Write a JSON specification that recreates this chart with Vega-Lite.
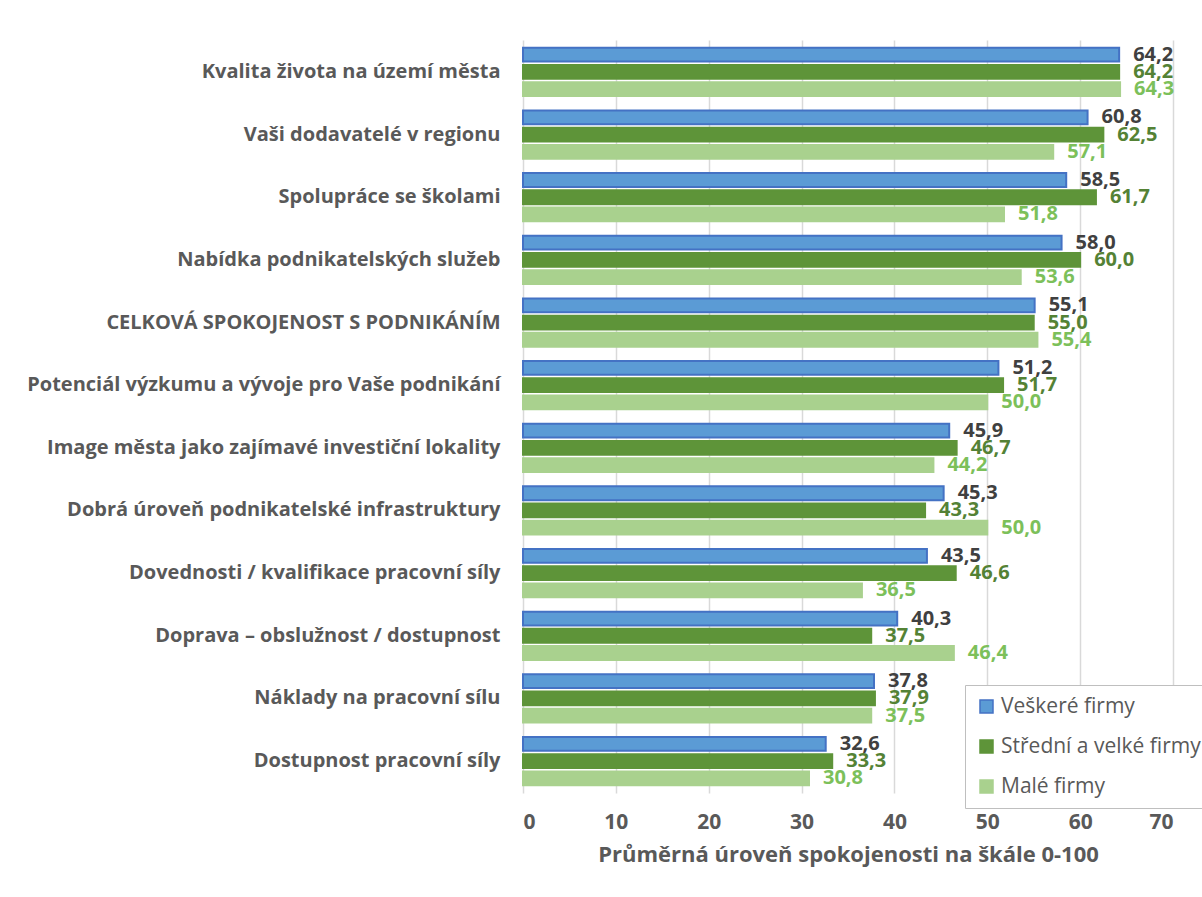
{
  "$schema": "https://vega.github.io/schema/vega-lite/v6.json",
  "width": 650,
  "height": 753,
  "autosize": {"type": "none"},
  "padding": {"left": 523, "top": 40, "right": 29, "bottom": 104},
  "background": "white",
  "config": {
    "font": "Open Sans",
    "view": {"stroke": null},
    "locale": {"number": {"decimal": ",", "thousands": " ", "grouping": [3], "currency": ["", " Kč"]}}
  },
  "data": {
    "values": [
      {"kat": "Kvalita života na území města", "serie": "Veškeré firmy", "hodnota": 64.2},
      {"kat": "Kvalita života na území města", "serie": "Střední a velké firmy", "hodnota": 64.2},
      {"kat": "Kvalita života na území města", "serie": "Malé firmy", "hodnota": 64.3},
      {"kat": "Vaši dodavatelé v regionu", "serie": "Veškeré firmy", "hodnota": 60.8},
      {"kat": "Vaši dodavatelé v regionu", "serie": "Střední a velké firmy", "hodnota": 62.5},
      {"kat": "Vaši dodavatelé v regionu", "serie": "Malé firmy", "hodnota": 57.1},
      {"kat": "Spolupráce se školami", "serie": "Veškeré firmy", "hodnota": 58.5},
      {"kat": "Spolupráce se školami", "serie": "Střední a velké firmy", "hodnota": 61.7},
      {"kat": "Spolupráce se školami", "serie": "Malé firmy", "hodnota": 51.8},
      {"kat": "Nabídka podnikatelských služeb", "serie": "Veškeré firmy", "hodnota": 58.0},
      {"kat": "Nabídka podnikatelských služeb", "serie": "Střední a velké firmy", "hodnota": 60.0},
      {"kat": "Nabídka podnikatelských služeb", "serie": "Malé firmy", "hodnota": 53.6},
      {"kat": "CELKOVÁ SPOKOJENOST S PODNIKÁNÍM", "serie": "Veškeré firmy", "hodnota": 55.1},
      {"kat": "CELKOVÁ SPOKOJENOST S PODNIKÁNÍM", "serie": "Střední a velké firmy", "hodnota": 55.0},
      {"kat": "CELKOVÁ SPOKOJENOST S PODNIKÁNÍM", "serie": "Malé firmy", "hodnota": 55.4},
      {"kat": "Potenciál výzkumu a vývoje pro Vaše podnikání", "serie": "Veškeré firmy", "hodnota": 51.2},
      {"kat": "Potenciál výzkumu a vývoje pro Vaše podnikání", "serie": "Střední a velké firmy", "hodnota": 51.7},
      {"kat": "Potenciál výzkumu a vývoje pro Vaše podnikání", "serie": "Malé firmy", "hodnota": 50.0},
      {"kat": "Image města jako zajímavé investiční lokality", "serie": "Veškeré firmy", "hodnota": 45.9},
      {"kat": "Image města jako zajímavé investiční lokality", "serie": "Střední a velké firmy", "hodnota": 46.7},
      {"kat": "Image města jako zajímavé investiční lokality", "serie": "Malé firmy", "hodnota": 44.2},
      {"kat": "Dobrá úroveň podnikatelské infrastruktury", "serie": "Veškeré firmy", "hodnota": 45.3},
      {"kat": "Dobrá úroveň podnikatelské infrastruktury", "serie": "Střední a velké firmy", "hodnota": 43.3},
      {"kat": "Dobrá úroveň podnikatelské infrastruktury", "serie": "Malé firmy", "hodnota": 50.0},
      {"kat": "Dovednosti / kvalifikace pracovní síly", "serie": "Veškeré firmy", "hodnota": 43.5},
      {"kat": "Dovednosti / kvalifikace pracovní síly", "serie": "Střední a velké firmy", "hodnota": 46.6},
      {"kat": "Dovednosti / kvalifikace pracovní síly", "serie": "Malé firmy", "hodnota": 36.5},
      {"kat": "Doprava – obslužnost / dostupnost", "serie": "Veškeré firmy", "hodnota": 40.3},
      {"kat": "Doprava – obslužnost / dostupnost", "serie": "Střední a velké firmy", "hodnota": 37.5},
      {"kat": "Doprava – obslužnost / dostupnost", "serie": "Malé firmy", "hodnota": 46.4},
      {"kat": "Náklady na pracovní sílu", "serie": "Veškeré firmy", "hodnota": 37.8},
      {"kat": "Náklady na pracovní sílu", "serie": "Střední a velké firmy", "hodnota": 37.9},
      {"kat": "Náklady na pracovní sílu", "serie": "Malé firmy", "hodnota": 37.5},
      {"kat": "Dostupnost pracovní síly", "serie": "Veškeré firmy", "hodnota": 32.6},
      {"kat": "Dostupnost pracovní síly", "serie": "Střední a velké firmy", "hodnota": 33.3},
      {"kat": "Dostupnost pracovní síly", "serie": "Malé firmy", "hodnota": 30.8}
    ]
  },
  "encoding": {
    "y": {
      "field": "kat", "type": "nominal", "sort": null,
      "scale": {"paddingInner": 0.23, "paddingOuter": 0.125},
      "axis": {"title": null, "domain": false, "ticks": false, "labelPadding": 23, "labelFontSize": 20, "labelFontWeight": "bold", "labelColor": "#595959", "labelLimit": 520}
    },
    "x": {
      "field": "hodnota", "type": "quantitative",
      "scale": {"domain": [0, 70], "nice": false},
      "axis": {"values": [0, 10, 20, 30, 40, 50, 60, 70], "title": "Průměrná úroveň spokojenosti na škále 0-100", "titleFontSize": 22, "titleFontWeight": "bold", "titleColor": "#595959", "titlePadding": 12, "labelFontSize": 21, "labelFontWeight": "bold", "labelColor": "#595959", "labelPadding": 18, "domain": false, "ticks": false, "grid": true, "gridColor": "#d9d9d9", "gridWidth": 1.5}
    },
    "yOffset": {
      "field": "serie", "type": "nominal",
      "scale": {"domain": ["Veškeré firmy", "Střední a velké firmy", "Malé firmy"], "paddingInner": 0.2, "paddingOuter": 0}
    }
  },
  "layer": [
    {
      "mark": {"type": "bar", "strokeWidth": 2},
      "encoding": {
        "color": {
          "field": "serie", "type": "nominal",
          "scale": {"domain": ["Veškeré firmy", "Střední a velké firmy", "Malé firmy"], "range": ["#5B9BD5", "#5E9439", "#A9D18E"]},
          "legend": {
            "title": null, "orient": "none", "legendX": 442, "legendY": 645, "direction": "vertical",
            "strokeColor": "#bfbfbf", "fillColor": "white", "padding": 11, "rowPadding": 18,
            "symbolType": "square", "symbolSize": 169, "symbolStrokeWidth": 1.5,
            "labelFontSize": 21, "labelColor": "#595959", "labelOffset": 4, "labelLimit": 300
          }
        },
        "stroke": {
          "field": "serie", "type": "nominal",
          "scale": {"domain": ["Veškeré firmy", "Střední a velké firmy", "Malé firmy"], "range": ["#4472C4", "#5E9439", "#A9D18E"]},
          "legend": {
            "title": null, "orient": "none", "legendX": 442, "legendY": 645, "direction": "vertical",
            "strokeColor": "#bfbfbf", "fillColor": "white", "padding": 11, "rowPadding": 18,
            "symbolType": "square", "symbolSize": 169, "symbolStrokeWidth": 1.5,
            "labelFontSize": 21, "labelColor": "#595959", "labelOffset": 4, "labelLimit": 300
          }
        }
      }
    },
    {
      "mark": {"type": "text", "align": "left", "baseline": "middle", "dx": 14, "fontSize": 20, "fontWeight": "bold"},
      "encoding": {
        "text": {"field": "hodnota", "type": "quantitative", "format": ".1f"},
        "fill": {
          "field": "serie", "type": "nominal", "legend": null,
          "scale": {"domain": ["Veškeré firmy", "Střední a velké firmy", "Malé firmy"], "range": ["#404040", "#548235", "#7CC05A"]}
        }
      }
    }
  ]
}
